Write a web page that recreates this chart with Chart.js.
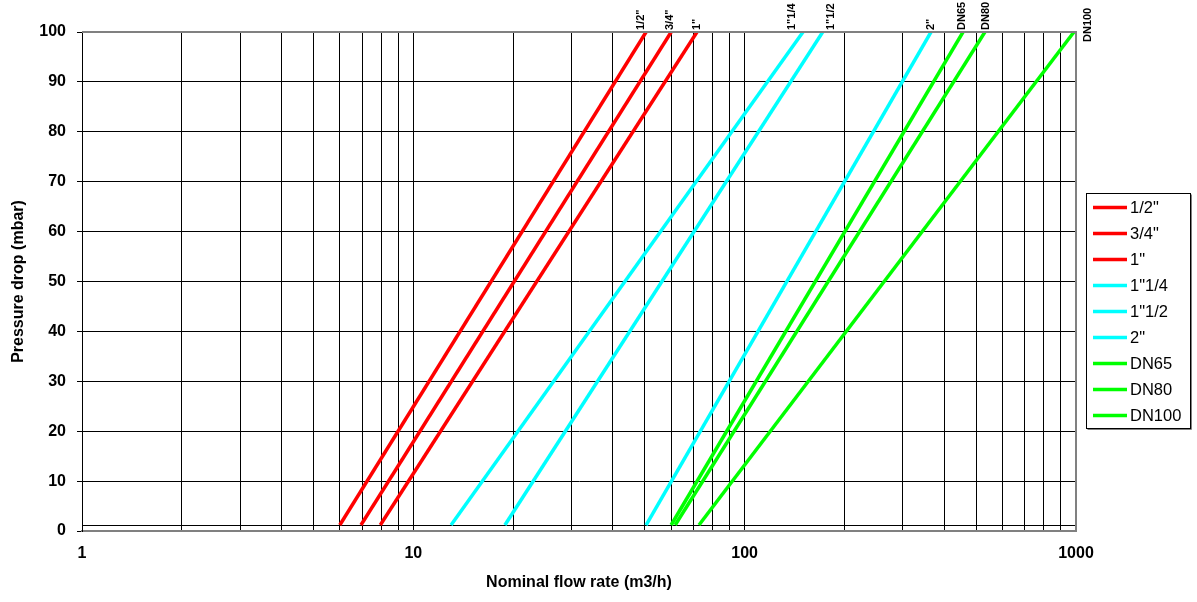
<!DOCTYPE html>
<html>
<head>
<meta charset="utf-8">
<script src="https://cdn.jsdelivr.net/npm/chart.js@4.4.1/dist/chart.umd.min.js"></script>
<style>
  html, body { margin: 0; padding: 0; background: #fff; }
  canvas { display: block; }
</style>
</head>
<body>
<canvas id="lossChart" width="1197" height="602"></canvas>
<script>
// valve sizes and their flow (m3/h) at the low and high end of the pressure range
const sizes = ['1/2"', '3/4"', '1"', '1"1/4', '1"1/2', '2"', 'DN65', 'DN80', 'DN100'];
const flowLow = [6.0, 6.95, 7.95, 13.0, 18.9, 50.4, 60.0, 61.7, 72.8];
const flowHigh = [50.4, 60.0, 71.8, 150, 172, 365, 456, 531, 986];
const dropRange = [1.2, 100];          // mbar, start and end of each curve
const baseFlow = [1, 1000];            // black reference line at the bottom
const baseDrop = [1.1, 1.1];
const xTicks = [1, 2, 3, 4, 5, 6, 7, 8, 9, 10, 20, 30, 40, 50, 60, 70, 80, 90,
                100, 200, 300, 400, 500, 600, 700, 800, 900, 1000];
const xLabels = [1, 10, 100, 1000];

const colors = ['#FF0000', '#FF0000', '#FF0000', '#00FFFF', '#00FFFF', '#00FFFF',
                '#00FF00', '#00FF00', '#00FF00'];
// small shifts for the rotated size labels at the top of each curve
const labelNudge = [[-5.5, 0], [-1.5, 0], [-0.5, 0], [-11, 0], [8, 0], [0, 0], [-1, 0], [1, 0], [14, 12]];

const FONT = "Arial, 'Liberation Sans', sans-serif";

const datasets = sizes.map((s, i) => ({
  label: s,
  data: [{ x: flowLow[i], y: dropRange[0] }, { x: flowHigh[i], y: dropRange[1] }],
  borderColor: colors[i],
  backgroundColor: colors[i],
  borderWidth: 3.5,
  pointRadius: 0,
  tension: 0
}));
datasets.push({
  label: '',
  data: baseFlow.map((f, i) => ({ x: f, y: baseDrop[i] })),
  borderColor: '#000',
  borderWidth: 1,
  pointRadius: 0,
  isBase: true
});

const decorPlugin = {
  id: 'decor',
  afterDatasetsDraw(chart) {
    const { ctx, chartArea: a } = chart;
    const xs = chart.scales.x, ys = chart.scales.y;

    // gray top and right frame of the plot area
    ctx.save();
    ctx.strokeStyle = '#808080';
    ctx.lineWidth = 2;
    ctx.beginPath();
    ctx.moveTo(a.left, a.top);
    ctx.lineTo(a.right, a.top);
    ctx.lineTo(a.right, a.bottom);
    ctx.stroke();
    ctx.restore();

    // rotated size labels
    ctx.save();
    ctx.font = 'bold 11px ' + FONT;
    ctx.fillStyle = '#000';
    ctx.textAlign = 'left';
    ctx.textBaseline = 'middle';
    sizes.forEach((s, i) => {
      const x = xs.getPixelForValue(flowHigh[i]) + labelNudge[i][0];
      const y = ys.getPixelForValue(dropRange[1]) - 2 + labelNudge[i][1];
      ctx.save();
      ctx.translate(x, y);
      ctx.rotate(-Math.PI / 2);
      ctx.fillText(s, 0, 0);
      ctx.restore();
    });
    ctx.restore();

    // legend box
    const bx = 1086.5, by = 193.5, bw = 104, bh = 235;
    ctx.save();
    ctx.strokeStyle = '#808080';
    ctx.lineWidth = 1;
    ctx.beginPath();
    ctx.moveTo(bx + 1, by + bh + 1);
    ctx.lineTo(bx + bw + 1, by + bh + 1);
    ctx.lineTo(bx + bw + 1, by + 1);
    ctx.stroke();
    ctx.strokeStyle = '#000';
    ctx.strokeRect(bx, by, bw, bh);
    ctx.font = '16.5px ' + FONT;
    ctx.textAlign = 'left';
    ctx.textBaseline = 'middle';
    chart.data.datasets.forEach((d, i) => {
      if (d.isBase) return;
      const y = 207.5 + i * 26;
      ctx.strokeStyle = d.borderColor;
      ctx.lineWidth = 3.5;
      ctx.beginPath();
      ctx.moveTo(1093, y);
      ctx.lineTo(1127, y);
      ctx.stroke();
      ctx.fillStyle = '#000';
      ctx.fillText(d.label, 1130, y + 1);
    });
    ctx.restore();
  }
};

new Chart(document.getElementById('lossChart').getContext('2d'), {
  type: 'line',
  data: { datasets },
  plugins: [decorPlugin],
  options: {
    responsive: false,
    animation: false,
    layout: { padding: { top: 32, right: 121, left: 0, bottom: 0 } },
    plugins: {
      legend: { display: false },
      tooltip: { enabled: false }
    },
    scales: {
      x: {
        type: 'logarithmic',
        min: 1,
        max: 1000,
        afterBuildTicks: scale => {
          scale.ticks = xTicks.map(v => ({ value: v }));
        },
        afterFit: scale => { scale.height = 71; },
        ticks: {
          autoSkip: false,
          maxRotation: 0,
          padding: 13,
          color: '#000',
          font: { family: FONT, size: 16, weight: 'bold' },
          callback: v => xLabels.includes(v) ? String(v) : ''
        },
        grid: { color: '#000', lineWidth: 1, tickLength: 0 },
        border: { color: '#808080', width: 2 },
        title: {
          display: true,
          text: 'Nominal flow rate (m3/h)',
          color: '#000',
          font: { family: FONT, size: 16, weight: 'bold' },
          padding: { top: 0, bottom: 9.5 }
        }
      },
      y: {
        min: 0,
        max: 100,
        afterFit: scale => { scale.width = 82; },
        ticks: {
          stepSize: 10,
          padding: 11,
          color: '#000',
          font: { family: FONT, size: 16, weight: 'bold' }
        },
        grid: { color: '#000', lineWidth: 1, tickLength: 5 },
        border: { color: '#000', width: 1 },
        title: {
          display: true,
          text: 'Pressure drop (mbar)',
          color: '#000',
          font: { family: FONT, size: 16, weight: 'bold' },
          padding: { top: 8.5, bottom: 0 }
        }
      }
    }
  }
});
</script>
</body>
</html>
